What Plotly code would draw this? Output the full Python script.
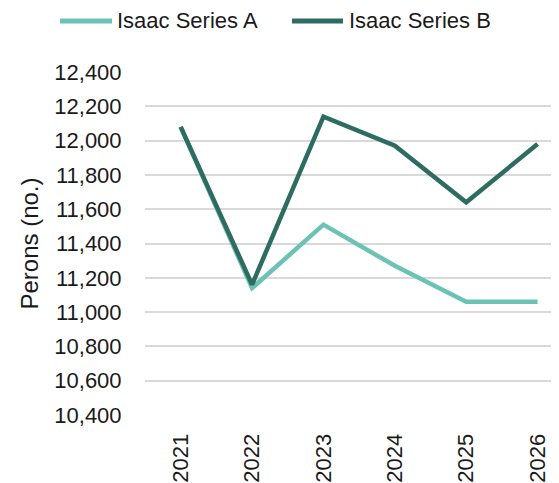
import plotly.graph_objects as go

years = ["2021", "2022", "2023", "2024", "2025", "2026"]
series_a = [12080, 11140, 11510, 11270, 11060, 11060]
series_b = [12080, 11160, 12140, 11970, 11640, 11980]
y_ticks = [10400, 10600, 10800, 11000, 11200, 11400, 11600, 11800, 12000, 12200, 12400]
names = ["Isaac Series A", "Isaac Series B"]
colors = ["#6CC3B5", "#2E6B61"]

FONT = "Liberation Sans, Arial, sans-serif"

fig = go.Figure()
for name, vals, col in zip(names, [series_a, series_b], colors):
    fig.add_trace(go.Scatter(x=years, y=vals, mode="lines", name=name,
                             line=dict(color=col, width=4.5), cliponaxis=False,
                             showlegend=False))

# custom legend (longer line samples as in reference)
leg_y = 1.1487
leg_items = [(-0.2053, -0.0797, -0.0725), (0.3551, 0.4783, 0.4879)]
for (x0, x1, xt), name, col in zip(leg_items, names, colors):
    fig.add_shape(type="line", xref="paper", yref="paper", x0=x0, x1=x1, y0=leg_y, y1=leg_y,
                  line=dict(color=col, width=5))
    fig.add_annotation(xref="paper", yref="paper", x=xt, y=leg_y, text=name,
                       showarrow=False, xanchor="left", yanchor="middle",
                       font=dict(size=22, color="#1a1a1a"))

# page body has an 8px default margin; figure is sized to compensate
fig.update_layout(
    width=551, height=475,
    margin=dict(l=137, r=0, t=64, b=68),
    paper_bgcolor="white", plot_bgcolor="white",
    font=dict(family=FONT, size=22, color="#1a1a1a"),
    showlegend=False,
    xaxis=dict(type="category", range=[-0.5, 5.3], showgrid=False, zeroline=False,
               showline=False, tickangle=-90, ticks="outside", ticklen=9,
               tickcolor="rgba(0,0,0,0)", tickfont=dict(size=22)),
    yaxis=dict(range=[10400, 12400], tickvals=y_ticks, tickformat=",", showgrid=True,
               gridcolor="#d9d9d9", gridwidth=1.5, zeroline=False, showline=False,
               ticks="outside", ticklen=18, tickcolor="rgba(0,0,0,0)",
               tickfont=dict(size=22),
               title=dict(text="Perons (no.)", font=dict(size=24), standoff=8)),
)

fig.write_html("out.html")
